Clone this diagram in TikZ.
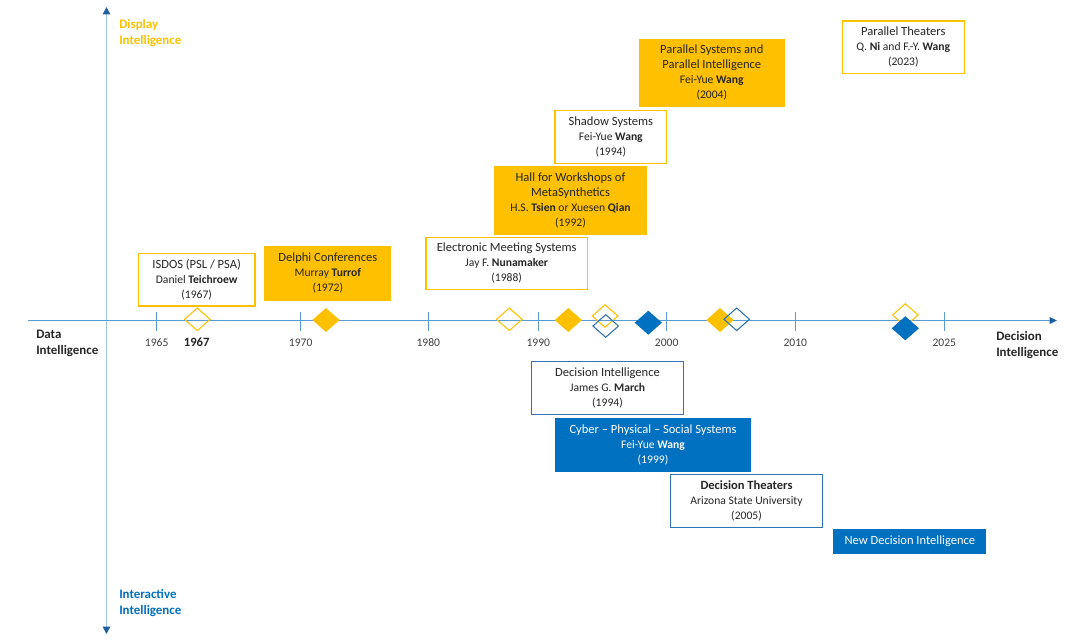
\documentclass[tikz,border=0pt]{standalone}
\usepackage{fontspec}
\setmainfont{Carlito}
\usetikzlibrary{arrows.meta,shapes.geometric}
\definecolor{gold}{HTML}{FFC000}
\definecolor{ublue}{HTML}{0070C0}
\definecolor{bblue}{HTML}{2E75B6}
\definecolor{axlight}{HTML}{9DC3E6}
\definecolor{axmid}{HTML}{5B9BD5}
\definecolor{axdark}{HTML}{1F5F9E}
\definecolor{txt}{HTML}{262626}
\definecolor{ticktxt}{HTML}{404040}
\newcommand\ttlf{\fontsize{9.4}{11.25}\selectfont}
\newcommand\subf{\fontsize{8.7}{11.25}\selectfont}
\newcommand\axf{\bfseries\fontsize{9.7}{12}\selectfont}
\newcommand\mkbox[7]{\node[#6, minimum width={(#4-#2)*0.75pt}, minimum height={(#5-#3)*0.75pt}] (#1) at ({(#2+#4)/2},{(#3+#5)/2}) {#7};}
\begin{document}
\begin{tikzpicture}[x=0.75pt,y=-0.75pt,
  box/.style={draw, line width=1pt, inner sep=0pt, align=center, font=\subf, text=txt},
  ybox/.style={box, draw=gold, fill=white},
  yfill/.style={box, draw=gold, fill=gold},
  bbox/.style={box, draw=bblue, fill=white},
  bfill/.style={box, draw=ublue, fill=ublue, text=white},
  dia/.style={diamond, inner sep=0pt, minimum width=19.5pt, minimum height=17.25pt, line width=0.8pt},
  ydo/.style={dia, draw=gold},
  ydf/.style={dia, draw=gold, fill=gold},
  bdo/.style={dia, draw=bblue},
  bdf/.style={dia, draw=ublue, fill=ublue},
  ticklbl/.style={font=\subf, text=ticktxt, inner sep=0pt},
  tickline/.style={axmid, line width=0.8pt},
  axlbl/.style={font=\axf, align=left, anchor=west, inner sep=0pt}
]
\useasboundingbox (0,0) rectangle (1080,643);
% axes
\coordinate (vt) at (106.5,7);
\coordinate (vb) at (106.5,634);
\coordinate (hs) at (28,320.5);
\coordinate (he) at (1057,320.5);
\draw[axlight, line width=1.2pt, {Triangle[length=5.5pt,width=5.5pt,color=axdark]}-{Triangle[length=5.5pt,width=5.5pt,color=axdark]}] (vb) -- (vt);
\draw[axmid, line width=0.9pt, -{Triangle[length=5.5pt,width=5pt,color=axdark]}] (hs) -- (he);
% ticks
\foreach \x/\lab in {156.7/1965, 300.7/1970, 428.3/1980, 538.3/1990, 666.7/2000, 795.3/2010, 944.3/2025}{
  \draw[tickline] (\x,312) -- (\x,331);
  \node[ticklbl] (t\lab) at (\x,342.5) {\lab};
}
\node[font=\bfseries\fontsize{9.5}{11}\selectfont, text=txt, inner sep=0pt] (t1967) at (196.7,342.5) {1967};
% axis labels
\node[axlbl, text=txt] (datai) at (36,343) {Data\\Intelligence};
\node[axlbl, text=txt] (deci) at (996,345.5) {Decision\\Intelligence};
\node[axlbl, text=gold] (dispi) at (119,33) {Display\\Intelligence};
\node[axlbl, text=ublue] (inti) at (119,603.5) {Interactive\\Intelligence};
% upper boxes
\mkbox{isdos}{138.3}{253.3}{255}{306}{ybox}{{\ttlf ISDOS (PSL / PSA)}\\Daniel \textbf{Teichroew}\\(1967)}
\mkbox{delphi}{265}{246.7}{390.7}{300}{yfill}{{\ttlf Delphi Conferences}\\Murray \textbf{Turrof}\\(1972)}
\mkbox{ems}{426}{237.3}{587.3}{289.3}{ybox}{{\ttlf Electronic Meeting Systems}\\Jay F. \textbf{Nunamaker}\\(1988)}
\mkbox{hall}{495}{166.7}{646}{234}{yfill}{{\ttlf Hall for Workshops of}\\{\ttlf MetaSynthetics}\\H.S. \textbf{Tsien} or Xuesen \textbf{Qian}\\(1992)}
\mkbox{shadow}{555}{110.7}{666.7}{163.3}{ybox}{{\ttlf Shadow Systems}\\Fei-Yue \textbf{Wang}\\(1994)}
\mkbox{psys}{639.3}{39.3}{784.3}{106}{yfill}{{\ttlf Parallel Systems and}\\{\ttlf Parallel Intelligence}\\Fei-Yue \textbf{Wang}\\(2004)}
\mkbox{ptheat}{842.3}{21}{964.3}{73.3}{ybox}{{\ttlf Parallel Theaters}\\Q. \textbf{Ni} and F.-Y. \textbf{Wang}\\(2023)}
% lower boxes
\mkbox{di}{531.7}{361.7}{683.3}{414.3}{bbox}{{\ttlf Decision Intelligence}\\James G. \textbf{March}\\(1994)}
\mkbox{cpss}{555.3}{418.3}{750.7}{471}{bfill}{{\ttlf Cyber -- Physical -- Social Systems}\\Fei-Yue \textbf{Wang}\\(1999)}
\mkbox{dt}{670.7}{474.3}{822.3}{527.3}{bbox}{{\ttlf\bfseries Decision Theaters}\\Arizona State University\\(2005)}
\mkbox{ndi}{834}{530}{985.7}{553.3}{bfill}{{\ttlf New Decision Intelligence}}
% diamonds
\node[ydo] (d1967) at (197.3,319.3) {};
\node[ydf] (d1972) at (326,320) {};
\node[ydo] (d1988) at (509.3,319.3) {};
\node[ydf] (d1992) at (568.3,320) {};
\node[ydo] (d1994y) at (605,316) {};
\node[bdo] (d1994b) at (605.7,326) {};
\node[bdf] (d1999) at (648.3,322.7) {};
\node[ydf] (d2004) at (720,320) {};
\node[bdo] (d2005) at (736.7,319.3) {};
\node[ydo] (d2023y) at (905.3,315) {};
\node[bdf] (d2023b) at (905.3,328.3) {};
\end{tikzpicture}
\end{document}
